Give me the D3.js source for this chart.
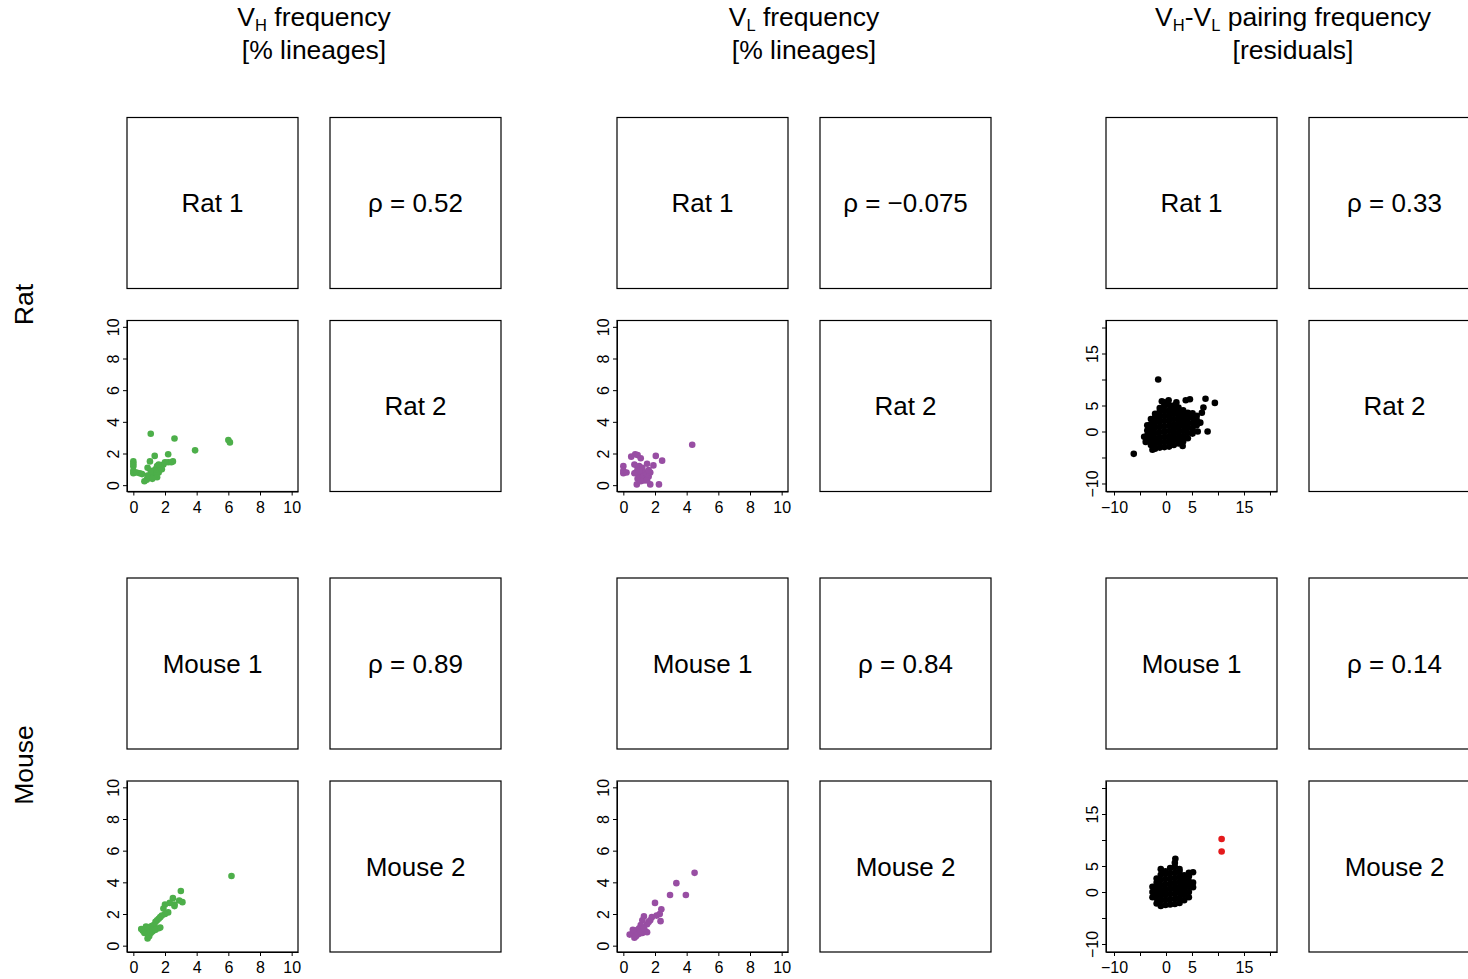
<!DOCTYPE html>
<html>
<head>
<meta charset="utf-8">
<script src="https://cdn.jsdelivr.net/npm/d3@7"></script>
<style>
body { margin: 0; background: #fff; }
text { font-family: "Liberation Sans", Arial, Helvetica, sans-serif; fill: #000; }
</style>
</head>
<body>
<div id="chart"></div>
<script>
var width = 1468, height = 979;

// ---- data ----
var species = ["Rat", "Mouse"];
var rho = {
  Rat:   [0.52, -0.075, 0.33],
  Mouse: [0.89, 0.84, 0.14]
};
var freqTicks = [0, 2, 4, 6, 8, 10];
var residTicks = [-10, -5, 0, 5, 10, 15, 20];
var residLabels = [-10, 0, 5, 15];

var ratVH = [[1.1,3.25],[2.6,2.95],[3.9,2.2],[6.0,2.85],[6.1,2.7],[1.35,1.85],[1.05,1.5],[2.2,1.95],
  [0,1.5],[0,1.35],[0,1.2],[0,0.9],[0,0.75],[0.2,0.8],[0.4,0.75],[0.55,0.7],[0.7,0.25],[0.85,0.35],
  [0.9,1.1],[1.0,0.5],[1.2,0.7],[1.3,0.9],[1.4,1.0],[1.5,1.2],[1.6,0.8],[1.45,0.6],[1.7,1.1],[1.8,1.0],
  [1.9,1.3],[2.0,1.45],[2.2,1.45],[2.4,1.45],[2.5,1.5],[1.6,1.3],[1.1,0.9],[0.9,0.6],[1.5,0.5],[1.2,0.4]];
var ratVL = [[4.35,2.55],[2.45,1.55],[2.05,1.85],[1.9,1.25],[1.5,1.35],[0.5,1.8],[0.75,1.95],[0.9,1.9],
  [1.1,1.7],[0.7,1.3],[0,1.2],[0,0.9],[0,0.75],[0.2,0.8],[2.25,0.05],[1.7,0.05],[0.85,0.05],[0.8,0.8],
  [0.9,1.0],[1.0,0.7],[1.1,0.5],[1.2,0.9],[1.3,0.6],[1.4,0.8],[1.5,0.7],[1.6,0.55],[1.7,0.8],[1.0,1.2],
  [1.2,1.1],[0.9,0.4],[1.3,0.3],[1.1,0.25],[1.5,0.3],[0.7,0.75],[1.0,0.9],[1.6,0.95]];
var mouseVH = [[6.2,4.4],[3.0,3.45],[3.1,2.75],[2.9,2.85],[2.5,3.0],[2.6,2.6],[2.3,2.7],[2.0,2.6],
  [1.9,2.35],[2.2,2.1],[2.0,2.0],[1.8,1.9],[1.7,1.8],[1.6,1.7],[1.5,1.6],[1.4,1.5],[1.6,1.1],[1.3,1.3],
  [1.2,1.25],[1.1,1.2],[1.0,1.1],[0.9,1.05],[0.8,0.9],[0.7,0.8],[0.6,0.95],[0.5,1.05],[0.9,0.45],
  [1.0,0.6],[1.1,0.8],[1.2,0.9],[0.8,1.2],[1.4,1.0],[1.7,1.15],[2.6,2.5]];
var mouseVL = [[4.5,4.6],[3.35,3.95],[2.95,3.2],[3.95,3.2],[2.0,2.7],[2.4,2.3],[2.3,2.0],[2.35,1.55],
  [2.1,1.9],[1.8,1.8],[1.7,1.6],[1.6,1.5],[1.5,1.35],[1.3,1.85],[1.2,1.6],[1.1,1.3],[1.0,1.1],[0.9,1.0],
  [0.8,0.9],[0.7,0.85],[0.6,0.8],[0.4,0.7],[0.7,0.5],[0.8,0.6],[1.0,0.75],[1.2,0.8],[1.4,0.9],[1.5,0.85],
  [0.9,0.7],[1.1,0.9],[0.6,1.0],[1.3,1.1]];

var ratResid = [
  [-3.6,-1.8],[-3.6,-0.8],[-3.6,0.2],[-3.6,1.2],
  [-2.9,-2.6],[-2.9,-1.6],[-2.9,-0.6],[-2.9,0.4],[-2.9,1.4],[-2.9,2.4],
  [-2.1,-3.3],[-2.1,-2.3],[-2.1,-1.3],[-2.1,-0.3],[-2.1,0.7],[-2.1,1.7],[-2.1,2.7],[-2.1,3.4],
  [-1.2,-3.1],[-1.2,-2.1],[-1.2,-1.1],[-1.2,-0.1],[-1.2,0.9],[-1.2,1.9],[-1.2,2.9],[-1.2,3.9],[-1.2,4.5],
  [-0.3,-3.0],[-0.3,-2.0],[-0.3,-1.0],[-0.3,0.0],[-0.3,1.0],[-0.3,2.0],[-0.3,3.0],[-0.3,4.0],[-0.3,5.0],[-0.3,5.6],
  [0.6,-2.9],[0.6,-1.9],[0.6,-0.9],[0.6,0.1],[0.6,1.1],[0.6,2.1],[0.6,3.1],[0.6,4.1],[0.6,5.1],
  [1.5,-2.6],[1.5,-1.6],[1.5,-0.6],[1.5,0.4],[1.5,1.4],[1.5,2.4],[1.5,3.4],[1.5,4.4],[1.5,5.0],
  [2.4,-2.3],[2.4,-1.3],[2.4,-0.3],[2.4,0.7],[2.4,1.7],[2.4,2.7],[2.4,3.7],[2.4,4.6],
  [3.3,-1.9],[3.3,-0.9],[3.3,0.1],[3.3,1.1],[3.3,2.1],[3.3,3.1],[3.3,4.1],
  [4.2,-1.3],[4.2,-0.3],[4.2,0.7],[4.2,1.7],[4.2,2.7],[4.2,3.6],
  [5.1,-0.4],[5.1,0.6],[5.1,1.6],[5.1,2.6],[5.1,3.5],
  [5.9,1.2],[5.9,2.2],[5.9,3.0],
  [-6.2,-4.3],[-1.5,10.0],[9.4,5.5],[7.6,6.3],[7.2,4.6],[4.6,6.2],[3.8,6.0],[8.0,0.0],[6.1,0.0],
  [6.6,1.7],[3.2,-2.8],[-4.2,-1.0],[-2.6,-3.5],[6.9,3.6],[-0.8,5.8],[0.5,6.0],[2.0,5.6],[-3.9,-2.0]];
var mouseResid = [
  [-2.6,-1.0],[-2.6,0.0],[-2.6,1.0],
  [-1.8,-2.2],[-1.8,-1.2],[-1.8,-0.2],[-1.8,0.8],[-1.8,1.8],[-1.8,2.6],
  [-1.0,-2.7],[-1.0,-1.7],[-1.0,-0.7],[-1.0,0.3],[-1.0,1.3],[-1.0,2.3],[-1.0,3.3],[-1.0,4.4],
  [-0.1,-2.5],[-0.1,-1.5],[-0.1,-0.5],[-0.1,0.5],[-0.1,1.5],[-0.1,2.5],[-0.1,3.5],[-0.1,4.0],
  [0.8,-2.4],[0.8,-1.4],[0.8,-0.4],[0.8,0.6],[0.8,1.6],[0.8,2.6],[0.8,3.6],[0.8,4.6],
  [1.7,-2.3],[1.7,-1.3],[1.7,-0.3],[1.7,0.7],[1.7,1.7],[1.7,2.7],[1.7,3.7],[1.7,4.8],[1.7,5.6],[1.8,6.4],
  [2.6,-2.1],[2.6,-1.1],[2.6,-0.1],[2.6,0.9],[2.6,1.9],[2.6,2.9],[2.6,3.9],[2.6,4.4],
  [3.5,-1.6],[3.5,-0.6],[3.5,0.4],[3.5,1.4],[3.5,2.4],[3.5,3.2],
  [4.4,-1.0],[4.4,0.0],[4.4,1.0],[4.4,2.0],[4.4,3.0],[4.4,3.7],
  [5.2,0.9],[5.2,1.8],[5.2,3.8]];
var mouseResidOutliers = [[10.7,10.2],[10.7,7.8]];

// ---- layout ----
var colX = [127, 617, 1106], gap = 203, box = 171;
var rowY = {Rat: [117.5, 320.5], Mouse: [578, 781]};
var colors = ["#4daf4a", "#984ea3", "#000000"];
var bigFont = 26.5, boxFont = 26, tickFont = 16;

var svg = d3.select("#chart").append("svg")
  .attr("width", width)
  .attr("height", height);

// column titles (two lines in one text element)
var titles = [
  [["V",0],["H",1],[" frequency",0]],
  [["V",0],["L",1],[" frequency",0]],
  [["V",0],["H",1],["-V",0],["L",1],[" pairing frequency",0]]
];
var subtitles = ["[% lineages]", "[% lineages]", "[residuals]"];

titles.forEach(function(parts, i) {
  var cx = colX[i] + (box + gap) / 2;
  var t = svg.append("text")
    .attr("x", cx).attr("y", 26)
    .attr("text-anchor", "middle")
    .attr("font-size", bigFont);
  var line1 = t.append("tspan").attr("x", cx).attr("y", 26);
  var sub = false;
  parts.forEach(function(p) {
    var ts = line1.append("tspan").text(p[0]);
    if (p[1] && !sub) { ts.attr("dy", 4.5).attr("font-size", 16.5); sub = true; }
    else if (p[1]) { ts.attr("font-size", 16.5); }
    else if (!p[1] && sub) { ts.attr("dy", -4.5); sub = false; }
  });
  t.append("tspan")
    .attr("x", cx).attr("y", 59)
    .text(subtitles[i]);
});

// row labels
species.forEach(function(s) {
  var cy = (rowY[s][0] + rowY[s][1] + box) / 2;
  svg.append("text")
    .attr("transform", "translate(33," + cy + ") rotate(-90)")
    .attr("text-anchor", "middle")
    .attr("font-size", bigFont)
    .text(s);
});

function boxRect(x0, y0) {
  svg.append("rect")
    .attr("x", x0).attr("y", y0)
    .attr("width", box).attr("height", box)
    .attr("fill", "none")
    .attr("stroke", "#000")
    .attr("stroke-width", 1.2);
}

function boxText(x0, y0, txt) {
  boxRect(x0, y0);
  svg.append("text")
    .attr("x", x0 + box / 2).attr("y", y0 + box / 2)
    .attr("dy", "0.35em")
    .attr("text-anchor", "middle")
    .attr("font-size", boxFont)
    .text(txt);
}

function scatter(x0, y0, dom, ticks, labels, pts, color, extra) {
  var x = d3.scaleLinear().domain(dom).range([x0, x0 + box]);
  var y = d3.scaleLinear().domain(dom).range([y0 + box, y0]);
  var fmt = function(d) { return labels.indexOf(d) >= 0 ? d3.format("")(d) : ""; };

  svg.append("g")
    .attr("transform", "translate(0," + (y0 + box) + ")")
    .call(d3.axisBottom(x).tickValues(ticks).tickSize(4).tickPadding(6).tickSizeOuter(0).tickFormat(fmt))
    .attr("font-size", tickFont)
    .attr("font-family", null)
    .call(function(g) { g.selectAll("text").attr("fill", "#000"); });

  svg.append("g")
    .attr("transform", "translate(" + x0 + ",0)")
    .call(d3.axisLeft(y).tickValues(ticks).tickSize(4).tickSizeOuter(0).tickFormat(fmt))
    .attr("font-size", tickFont)
    .attr("font-family", null)
    .call(function(g) {
      g.selectAll("text")
        .attr("fill", "#000")
        .attr("x", 0).attr("y", -8).attr("dy", 0)
        .attr("text-anchor", "middle")
        .attr("transform", "rotate(-90)");
    });

  svg.append("g").selectAll("circle")
    .data(pts)
    .join("circle")
    .attr("cx", function(d) { return x(d[0]); })
    .attr("cy", function(d) { return y(d[1]); })
    .attr("r", 3.3)
    .attr("fill", color);

  if (extra) {
    svg.append("g").selectAll("circle")
      .data(extra)
      .join("circle")
      .attr("cx", function(d) { return x(d[0]); })
      .attr("cy", function(d) { return y(d[1]); })
      .attr("r", 3.3)
      .attr("fill", "#e41a1c");
  }
  boxRect(x0, y0);
}

var scatterData = {
  Rat:   [ratVH, ratVL, ratResid],
  Mouse: [mouseVH, mouseVL, mouseResid]
};

species.forEach(function(s) {
  var ys = rowY[s];
  colX.forEach(function(x0, i) {
    boxText(x0, ys[0], s + " 1");
    boxText(x0 + gap, ys[0], "ρ = " + String(rho[s][i]).replace("-", "−"));
    boxText(x0 + gap, ys[1], s + " 2");
    if (i < 2) {
      scatter(x0, ys[1], [-0.4, 10.4], freqTicks, freqTicks, scatterData[s][i], colors[i]);
    } else {
      scatter(x0, ys[1], [-11.54, 21.35], residTicks, residLabels, scatterData[s][i], colors[i],
        s === "Mouse" ? mouseResidOutliers : null);
    }
  });
});
</script>
</body>
</html>
